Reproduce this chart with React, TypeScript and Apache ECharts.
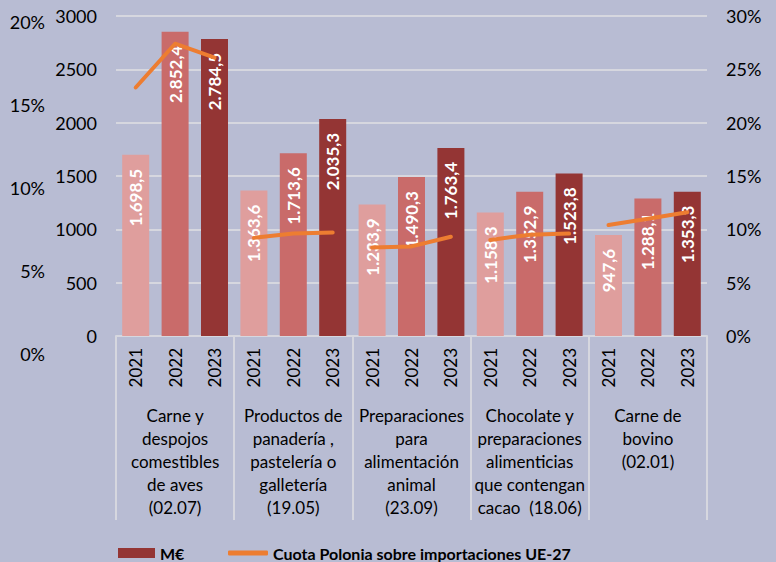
import React, { useEffect, useRef } from "react";
import * as echarts from "echarts";

const years = ["2021", "2022", "2023"];
const groups = [
  "Carne y\ndespojos\ncomestibles\nde aves\n(02.07)",
  "Productos de\npanadería ,\npastelería o\ngalletería\n(19.05)",
  "Preparaciones\npara\nalimentación\nanimal\n(23.09)",
  "Chocolate y\npreparaciones\nalimenticias\nque contengan\ncacao  (18.06)",
  "Carne de\nbovino\n(02.01)",
];
const valuesMEUR = [
  1698.5, 2852.4, 2784.5,
  1363.6, 1713.6, 2035.3,
  1233.9, 1490.3, 1763.4,
  1158.3, 1352.9, 1523.8,
  947.6, 1288.1, 1353.3,
];
const sharePct = [
  23.3, 27.4, 26.1,
  9.2, 9.6, 9.7,
  8.3, 8.4, 9.3,
  9.0, 9.5, 9.6,
  10.4, 11.0, 11.6,
];
const leftTicks = [0, 500, 1000, 1500, 2000, 2500, 3000];
const outerPctTicks = [0, 5, 10, 15, 20];
const rightPctTicks = [0, 5, 10, 15, 20, 25, 30];

const yearColors = ["#DF9E9D", "#C96B6A", "#943534"];
const FONT = "Lato, 'Open Sans', sans-serif";
const GRID_LINE = "#D6D7DF";

function fmt(v: number): string {
  const [int, dec] = v.toFixed(1).split(".");
  const withSep = int.replace(/\B(?=(\d{3})+(?!\d))/g, ".");
  return withSep + "," + dec;
}

export default function App() {
  const ref = useRef<HTMLDivElement>(null);
  useEffect(() => {
    if (!ref.current) return;
    const chart = echarts.init(ref.current, undefined, { renderer: "svg" });
    const cats: string[] = [];
    groups.forEach(() => years.forEach((y) => cats.push(y)));

    const lineSeries = groups.map((_, g) => ({
      name: "Cuota Polonia sobre importaciones UE-27",
      type: "line",
      xAxisIndex: 0,
      yAxisIndex: 1,
      symbol: "none",
      lineStyle: { color: "#ED7D31", width: 4, cap: "round", join: "round" },
      itemStyle: { color: "#ED7D31" },
      data: sharePct.map((v, i) => (Math.floor(i / 3) === g ? v : null)),
      z: 5,
    }));

    chart.setOption({
      animation: false,
      backgroundColor: "#B8BCD3",
      textStyle: { fontFamily: FONT },
      grid: [
        { left: 116, right: 69, top: 16, bottom: 226 },
        { left: 116, right: 69, top: 22, bottom: 208 },
      ],
      legend: [
        {
          data: [{ name: "M€", icon: "rect" }],
          left: 113,
          top: 540,
          itemWidth: 37,
          itemHeight: 10,
          itemGap: 5,
          textStyle: { fontFamily: FONT, fontSize: 16, fontWeight: "bold", color: "#000" },
        },
        {
          data: [{ name: "Cuota Polonia sobre importaciones UE-27", icon: "roundRect" }],
          left: 223,
          top: 540,
          itemWidth: 40,
          itemHeight: 5,
          textStyle: { fontFamily: FONT, fontSize: 16, fontWeight: "bold", color: "#000" },
        },
      ],
      xAxis: [
        {
          type: "category",
          gridIndex: 0,
          data: cats,
          axisLine: { show: false },
          axisTick: { show: false },
          axisLabel: {
            rotate: 90,
            margin: 12,
            fontSize: 17,
            color: "#000",
            fontFamily: FONT,
            interval: 0,
          },
        },
        {
          type: "category",
          gridIndex: 0,
          position: "bottom",
          data: groups,
          axisLine: { show: true, lineStyle: { color: GRID_LINE, width: 2 } },
          axisTick: { show: true, length: 184, interval: 0, lineStyle: { color: GRID_LINE, width: 2 } },
          axisLabel: {
            interval: 0,
            margin: 68,
            fontSize: 17,
            lineHeight: 23,
            color: "#000",
            fontFamily: FONT,
            align: "center",
            verticalAlign: "top",
          },
        },
        {
          type: "value",
          gridIndex: 1,
          show: false,
        },
      ],
      yAxis: [
        {
          type: "value",
          gridIndex: 0,
          min: 0,
          max: leftTicks[leftTicks.length - 1],
          interval: 500,
          axisLine: { show: false },
          axisTick: { show: false },
          axisLabel: {
            margin: 19,
            fontSize: 18,
            color: "#000",
            fontFamily: FONT,
            formatter: (v: number) => String(v),
          },
          splitLine: { show: true, lineStyle: { color: GRID_LINE, width: 2 } },
        },
        {
          type: "value",
          gridIndex: 0,
          position: "right",
          min: 0,
          max: rightPctTicks[rightPctTicks.length - 1],
          interval: 5,
          axisLine: { show: false },
          axisTick: { show: false },
          splitLine: { show: false },
          axisLabel: { margin: 19, fontSize: 18, color: "#000", fontFamily: FONT, formatter: "{value}%" },
        },
        {
          type: "value",
          gridIndex: 1,
          position: "left",
          offset: 63,
          min: 0,
          max: outerPctTicks[outerPctTicks.length - 1],
          interval: 5,
          axisLine: { show: false },
          axisTick: { show: false },
          splitLine: { show: false },
          axisLabel: { margin: 8, fontSize: 18, color: "#000", fontFamily: FONT, formatter: "{value}%" },
        },
      ],
      series: [
        {
          name: "M€",
          type: "bar",
          xAxisIndex: 0,
          yAxisIndex: 0,
          barWidth: 27,
          itemStyle: { color: yearColors[2] },
          data: valuesMEUR.map((v, i) => ({
            value: v,
            itemStyle: { color: yearColors[i % 3] },
          })),
          label: {
            show: true,
            position: "insideTop",
            rotate: 90,
            align: "right",
            verticalAlign: "middle",
            distance: 14,
            color: "#fff",
            fontSize: 17,
            fontWeight: "bold",
            fontFamily: FONT,
            formatter: (p: any) => fmt(p.value),
          },
          z: 2,
        },
        ...lineSeries,
      ],
    });
    return () => chart.dispose();
  }, []);
  return (
    <div
      ref={ref}
      style={{ position: "absolute", left: 0, top: 0, width: 776, height: 562 }}
    />
  );
}
